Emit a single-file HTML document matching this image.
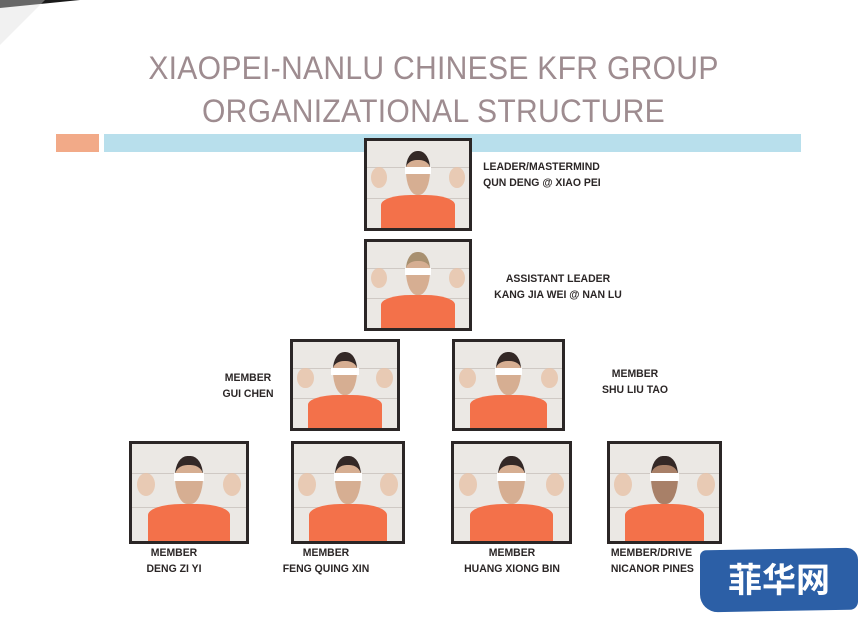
<!DOCTYPE html>
<html><head><meta charset="utf-8">
<style>
*{margin:0;padding:0;box-sizing:border-box}
body{width:867px;height:628px;background:#fff;position:relative;overflow:hidden;font-family:"Liberation Sans",sans-serif}
.t{position:absolute;left:0;width:867px;text-align:center;color:#9e8c90;font-size:32px;letter-spacing:0.3px;font-family:"Liberation Sans",sans-serif;transform:scaleX(0.94)}
.p{position:absolute;border:3px solid #2b2626;background:#ebe8e4;overflow:hidden}
.p .ln{position:absolute;left:0;right:0;height:1px;background:#cfc9c4}
.p .bd{position:absolute;width:16%;height:24%;border-radius:50%;background:#e7c2a8;opacity:.8}
.p .sh{position:absolute;bottom:0;left:14%;width:72%;height:38%;background:#f3714a;border-radius:40% 40% 0 0/30% 30% 0 0}
.p .hd{position:absolute;left:50%;width:24%;margin-left:-12%;top:12%;height:50%;background:#d6ae92;border-radius:45% 45% 45% 45%/40% 40% 55% 55%;border-top:9px solid #332826}
.p .ey{position:absolute;left:50%;width:26%;margin-left:-13%;top:30%;height:8%;background:#fff}
.l{position:absolute;font-weight:bold;font-size:11px;color:#2b2626;text-align:center;line-height:16px;transform:scaleX(0.95)}
</style></head><body>
<div style="position:absolute;left:0;top:0;width:0;height:0;border-top:8px solid #1a1a1a;border-right:80px solid transparent"></div>
<div style="position:absolute;left:0;top:0;width:0;height:0;border-top:45px solid #ddd;border-right:45px solid transparent;opacity:.4"></div>
<div class="t" style="top:50px">XIAOPEI-NANLU CHINESE KFR GROUP</div>
<div class="t" style="top:93px">ORGANIZATIONAL STRUCTURE</div>
<div style="position:absolute;left:56px;top:134px;width:43px;height:18px;background:#f2aa88"></div>
<div style="position:absolute;left:104px;top:134px;width:697px;height:18px;background:#b8dfec"></div>

<div class="p" style="left:364px;top:138px;width:108px;height:93px"><div class="ln" style="top:30%"></div><div class="ln" style="top:65%"></div><div class="bd" style="left:4%;top:30%"></div><div class="bd" style="left:80%;top:30%"></div><div class="sh"></div><div class="hd"></div><div class="ey"></div></div>
<div class="l" style="left:480px;top:159px;text-align:left">LEADER/MASTERMIND<br>QUN DENG @ XIAO PEI</div>

<div class="p" style="left:364px;top:239px;width:108px;height:92px"><div class="ln" style="top:30%"></div><div class="ln" style="top:65%"></div><div class="bd" style="left:4%;top:30%"></div><div class="bd" style="left:80%;top:30%"></div><div class="sh"></div><div class="hd" style="border-top-color:#a89070"></div><div class="ey"></div></div>
<div class="l" style="left:478px;top:271px;width:160px">ASSISTANT LEADER<br>KANG JIA WEI @ NAN LU</div>

<div class="p" style="left:290px;top:339px;width:110px;height:92px"><div class="ln" style="top:30%"></div><div class="ln" style="top:65%"></div><div class="bd" style="left:4%;top:30%"></div><div class="bd" style="left:80%;top:30%"></div><div class="sh"></div><div class="hd"></div><div class="ey"></div></div>
<div class="l" style="left:208px;top:370px;width:80px">MEMBER<br>GUI CHEN</div>

<div class="p" style="left:452px;top:339px;width:113px;height:92px"><div class="ln" style="top:30%"></div><div class="ln" style="top:65%"></div><div class="bd" style="left:4%;top:30%"></div><div class="bd" style="left:80%;top:30%"></div><div class="sh"></div><div class="hd"></div><div class="ey"></div></div>
<div class="l" style="left:595px;top:366px;width:80px">MEMBER<br>SHU LIU TAO</div>

<div class="p" style="left:129px;top:441px;width:120px;height:103px"><div class="ln" style="top:30%"></div><div class="ln" style="top:65%"></div><div class="bd" style="left:4%;top:30%"></div><div class="bd" style="left:80%;top:30%"></div><div class="sh"></div><div class="hd"></div><div class="ey"></div></div>
<div class="l" style="left:119px;top:545px;width:110px">MEMBER<br>DENG ZI YI</div>

<div class="p" style="left:291px;top:441px;width:114px;height:103px"><div class="ln" style="top:30%"></div><div class="ln" style="top:65%"></div><div class="bd" style="left:4%;top:30%"></div><div class="bd" style="left:80%;top:30%"></div><div class="sh"></div><div class="hd"></div><div class="ey"></div></div>
<div class="l" style="left:266px;top:545px;width:120px">MEMBER<br>FENG QUING XIN</div>

<div class="p" style="left:451px;top:441px;width:121px;height:103px"><div class="ln" style="top:30%"></div><div class="ln" style="top:65%"></div><div class="bd" style="left:4%;top:30%"></div><div class="bd" style="left:80%;top:30%"></div><div class="sh"></div><div class="hd"></div><div class="ey"></div></div>
<div class="l" style="left:452px;top:545px;width:120px">MEMBER<br>HUANG XIONG BIN</div>

<div class="p" style="left:607px;top:441px;width:115px;height:103px"><div class="ln" style="top:30%"></div><div class="ln" style="top:65%"></div><div class="bd" style="left:4%;top:30%"></div><div class="bd" style="left:80%;top:30%"></div><div class="sh"></div><div class="hd" style="background:#a88068"></div><div class="ey"></div></div>
<div class="l" style="left:600px;top:545px;width:130px;text-align:left;padding-left:8px">MEMBER/DRIVE<br>NICANOR PINES</div>

<div style="position:absolute;left:700px;top:549px;width:158px;height:62px;background:#2c5fa6;border-radius:6px 12px 8px 18px;transform:skewY(-1deg)"></div>
<div style="position:absolute;left:700px;top:556px;width:158px;text-align:center;color:#fff;font-size:34px;font-weight:bold;font-family:'Noto Sans CJK SC','WenQuanYi Zen Hei',sans-serif;line-height:44px">菲华网</div>
</body></html>
